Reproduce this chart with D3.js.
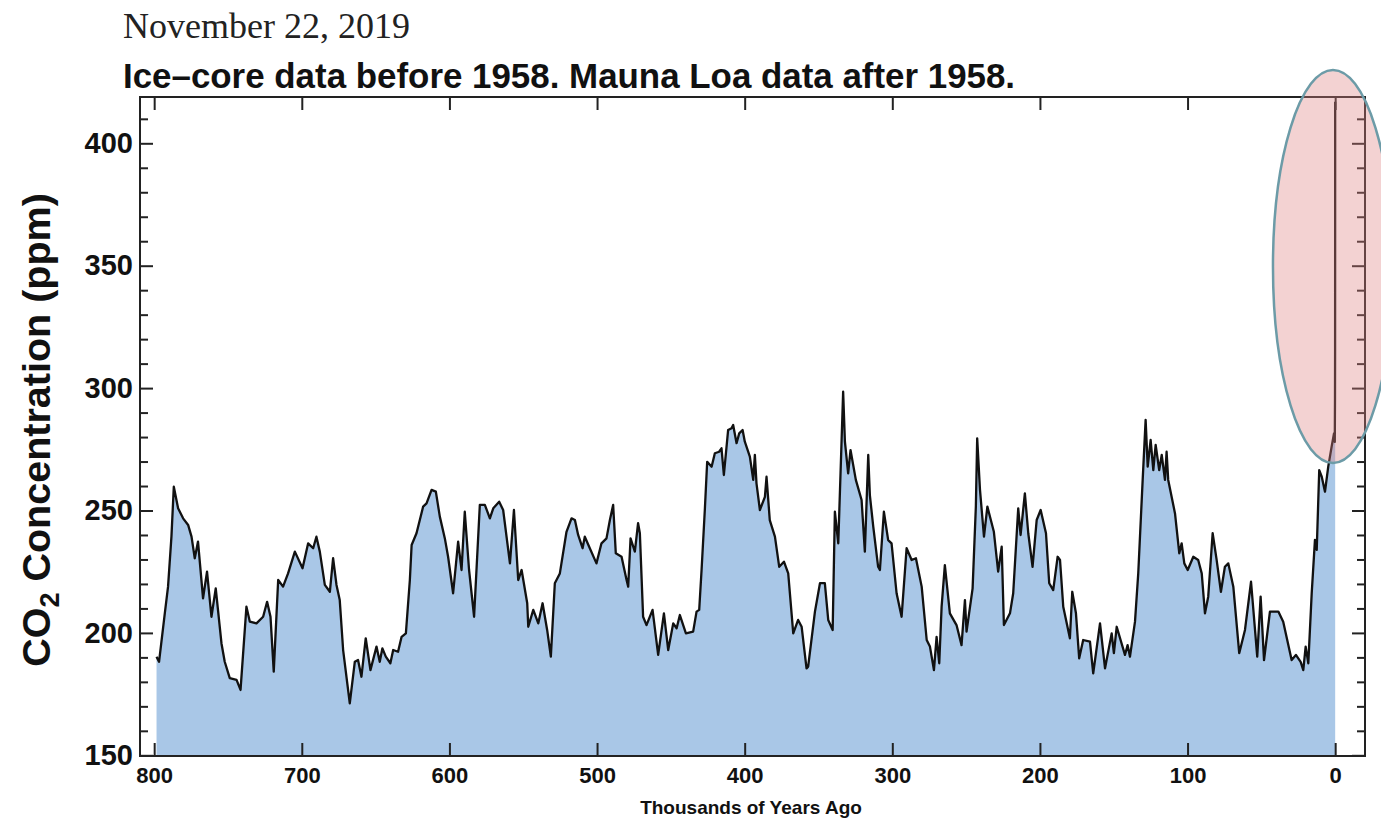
<!DOCTYPE html>
<html>
<head>
<meta charset="utf-8">
<script src="https://cdn.jsdelivr.net/npm/d3@7"></script>
<style>
  html, body { margin: 0; padding: 0; background: #fff; }
  svg { display: block; }
</style>
</head>
<body>
<svg id="chart" width="1381" height="822"></svg>
<script>
// ---- DATA ----
const dateText = "November 22, 2019";
const titleText = "Ice\u2013core data before 1958. Mauna Loa data after 1958.";
const xAxisTitle = "Thousands of Years Ago";
const xTickValues = [800, 700, 600, 500, 400, 300, 200, 100, 0];
const yTickValues = [150, 200, 250, 300, 350, 400];
const yMinorValues = [160,170,180,190,210,220,230,240,260,270,280,290,310,320,330,340,360,370,380,390,410];

// thousands of years ago (old -> recent)
const kyrAgo = [
798.4,796.7,792.8,790.6,788.3,786.7,783.8,780.4,777,774.7,772.5,770.3,766.9,764.2,761.2,758.3,754.4,752.2,748.8,744.2,
741.5,737.5,735.2,730.7,726.2,723.5,721.2,719,716,712.7,709.3,704.7,699.5,695.7,692.3,690.1,687.8,684.4,681,678.8,
676.5,674.3,672,667.5,664.1,661.9,659.6,656.7,653.5,649.4,647.2,645.4,643.1,640,638.1,634.8,632.4,629.5,626.8,625.6,
622.3,617.8,615.5,612.1,609.2,606.5,603.1,600.9,597.5,594.1,591.8,589.6,586.7,583.3,579.4,576,572.6,570.3,566.3,563.6,
559,556.3,553.4,551.1,547.3,546.6,543.2,539.8,536.9,533.8,531.3,528.6,525.2,520.7,517.3,515,512.8,509.8,508.3,504.9,
500.4,497,493.6,491.3,489.1,487.3,483.4,480,478.9,477.3,474.4,472.2,471,468.8,466.5,462.4,458.6,454.7,451.8,448.4,
446.1,443.9,439.8,434.9,432.6,430.8,429.2,427,425.4,422.4,420.2,417.3,415.7,414.1,411.2,408.9,407.8,405.5,403.7,401.4,
399.9,396.5,394.2,393.1,392,389.7,386.3,385.2,383,379.5,376.6,373.4,370.5,367.1,363.8,361.4,358.1,357,352.4,349,
345.7,343.4,340.4,338.9,336.6,334.3,333.3,332.1,329.9,328.3,324.7,320.8,318.6,316.3,315.2,312.9,309.6,308.4,305.7,302.8,
300.5,297.1,293.7,290.3,286.9,284,280.1,276.7,274.5,271.8,270,268.2,266.6,264.4,261,256.5,253.1,250.8,249.7,245.6,
243.4,242.5,240.6,237.9,235.6,231.2,228.3,225.9,224.4,220.3,218.1,214.7,213.1,210.2,207.9,205,202.2,199.5,195.9,193.7,
191,188,186.4,184.2,179.7,178.1,175.6,173.4,170.7,166.1,163.9,159.3,155.9,151.4,149.9,148,142.4,140.6,139,135.6,
133.4,130.4,128.4,127,125,123.2,121.6,119.2,117.5,115.3,114.2,113.1,108.5,105.6,104,102.2,99.9,96.1,92.8,90.4,
88.2,86,83,80.3,77.4,74.7,72.4,69,65,61.1,57,52.8,50.5,48.2,44.2,38.5,35.2,29.5,26.6,23.4,
21.6,20,18.2,15.9,13.7,12.5,10.8,9.1,6.9,4.7,2.4,0.8,0.27,0.12,0.061,0.04,0.02,0
];
// CO2 concentration, ppm
const co2ppm = [
190.3,188.2,208,218.9,239.3,259.7,250.9,246.8,244.1,239.3,230.5,237.3,214.1,225,206.6,218.2,195.7,188.2,181.5,180.8,
176.7,210.7,204.6,203.9,206.6,212.7,206.6,184.2,221.6,218.9,224.3,233.2,226.4,236.6,234.6,239.3,233.2,219.6,216.8,230.5,
219.6,213.4,193,171.2,188.2,188.9,182.1,197.8,184.8,194.4,188.2,193.7,190.3,187.6,193,192.3,198.4,199.8,221.6,235.9,
240.7,251.6,252.9,258.4,257.7,247.5,238.6,231.1,216.2,237.3,225.7,249.5,225.7,206.6,252.3,252.3,246.8,250.9,253.6,250.2,
228.4,250.2,221.6,225.7,212.1,202.5,209.4,203.9,212.1,201.2,190.3,220.3,224.3,241.3,246.8,246.1,240,234.6,239.3,234.6,
228.4,236.6,238.6,246.1,252.3,232.5,231.1,221.6,218.9,238.6,233.2,244.8,240.7,206.6,203.2,209.4,191,208,193,203.9,
201.9,207.3,199.8,200.5,208.7,209.4,225.7,250.2,269.9,267.9,273.4,274,275.4,264.5,282.9,283.6,284.9,277.5,281.5,282.9,
278.1,272,262.5,272.7,261.1,250.2,255.6,263.8,246.1,239.3,227,229.1,224.3,199.8,205.3,202.5,185.5,186.2,208.7,220.3,
220.3,205.3,201.2,249.5,236.6,279.5,298.5,278.1,265.2,274.7,262.5,254.3,233.2,272.7,256.3,243.4,227,225.7,249.5,237.9,
236.6,216.2,206.6,234.6,229.8,230.5,218.9,197.1,194.4,184.8,198.4,187.6,210.7,227.7,208,203.2,195,213.4,200.5,218.2,
251.6,279.5,258.4,239.3,251.6,241.3,225,235.2,203.2,208,216.2,250.9,240,257,240.7,227,246.1,250.2,240.7,220.3,
217.5,231.1,229.8,210.7,197.8,216.8,208,189.6,197.1,196.4,183.5,203.9,185.5,199.8,191.7,202.5,191,195,190.3,204.6,
224.3,262.5,287,267.9,278.8,266.5,276.8,266.5,272.7,262.5,274,262.5,248.8,232.5,236.6,228.4,225.7,231.1,229.8,224.3,
208,214.8,240.7,229.8,216.8,227,228.4,218.9,191.7,201.2,220.9,190.3,214.8,188.9,208.7,208.7,204.6,188.9,191,188.2,
184.8,194.4,187.6,216.2,238,233.9,266.5,263.8,257.7,267.9,276.1,281.5,278,296,315,339,369,417
];

// ---- LAYOUT ----
const frame = { left: 140, right: 1365, top: 97, bottom: 756 };
const svg = d3.select("#chart");

const x = d3.scaleLinear().domain([809.6, -20.2]).range([frame.left, frame.right]);
const y = d3.scaleLinear().domain([150, 400]).range([755.3, 143.3]);

const data = kyrAgo.map((k, i) => ({ k, v: co2ppm[i] }));

// area + line
svg.append("path")
  .datum(data)
  .attr("fill", "#a9c7e7")
  .attr("d", d3.area().x(d => x(d.k)).y0(y(150)).y1(d => y(d.v)));

svg.append("path")
  .datum(data)
  .attr("fill", "none")
  .attr("stroke", "#111")
  .attr("stroke-width", 2.3)
  .attr("stroke-linejoin", "round")
  .attr("d", d3.line().x(d => x(d.k)).y(d => y(d.v)));

// axes
const tickColor = "#222";
function styleAxis(g, fontSize) {
  g.select(".domain").remove();
  g.selectAll(".tick line").attr("stroke", tickColor).attr("stroke-width", 2);
  g.selectAll(".tick text")
    .attr("fill", "#111")
    .style("font-family", "'Liberation Sans', Arial, Helvetica, sans-serif")
    .style("font-weight", "bold")
    .style("font-size", fontSize + "px");
}

// bottom (labels)
svg.append("g").attr("transform", `translate(0,${frame.bottom})`)
  .call(d3.axisBottom(x).tickValues(xTickValues).tickSize(-13).tickPadding(11).tickFormat(d3.format("d")))
  .call(g => styleAxis(g, 22));
// top
svg.append("g").attr("transform", `translate(0,${frame.top})`)
  .call(d3.axisTop(x).tickValues(xTickValues).tickSize(-13).tickFormat(""))
  .call(g => styleAxis(g, 22));
// left major
svg.append("g").attr("transform", `translate(${frame.left},0)`)
  .call(d3.axisLeft(y).tickValues(yTickValues).tickSize(-13).tickPadding(7).tickFormat(d3.format("d")))
  .call(g => styleAxis(g, 29));
// left minor
svg.append("g").attr("transform", `translate(${frame.left},0)`)
  .call(d3.axisLeft(y).tickValues(yMinorValues).tickSize(-8).tickFormat(""))
  .call(g => styleAxis(g, 29));
// right major / minor
svg.append("g").attr("transform", `translate(${frame.right},0)`)
  .call(d3.axisRight(y).tickValues(yTickValues).tickSize(-13).tickFormat(""))
  .call(g => styleAxis(g, 29));
svg.append("g").attr("transform", `translate(${frame.right},0)`)
  .call(d3.axisRight(y).tickValues(yMinorValues).tickSize(-8).tickFormat(""))
  .call(g => styleAxis(g, 29));

// frame
svg.append("rect")
  .attr("x", frame.left).attr("y", frame.top)
  .attr("width", frame.right - frame.left).attr("height", frame.bottom - frame.top)
  .attr("fill", "none").attr("stroke", "#222").attr("stroke-width", 2);

// texts
svg.append("text")
  .attr("x", 123).attr("y", 38)
  .style("font-family", "'Liberation Serif', 'Times New Roman', serif")
  .style("font-size", "36px")
  .attr("fill", "#222")
  .text(dateText);

svg.append("text")
  .attr("x", 123).attr("y", 88)
  .style("font-family", "'Liberation Sans', Arial, Helvetica, sans-serif")
  .style("font-weight", "bold")
  .style("font-size", "34.9px")
  .attr("fill", "#111")
  .text(titleText);

svg.append("text")
  .attr("x", 751).attr("y", 814)
  .attr("text-anchor", "middle")
  .style("font-family", "'Liberation Sans', Arial, Helvetica, sans-serif")
  .style("font-weight", "bold")
  .style("font-size", "19px")
  .attr("fill", "#111")
  .text(xAxisTitle);

const yl = svg.append("text")
  .attr("transform", "translate(50,430) rotate(-90)")
  .attr("text-anchor", "middle")
  .style("font-family", "'Liberation Sans', Arial, Helvetica, sans-serif")
  .style("font-weight", "bold")
  .style("font-size", "39.5px")
  .attr("fill", "#111");
yl.append("tspan").text("CO");
yl.append("tspan").attr("dy", 9).style("font-size", "27px").text("2");
yl.append("tspan").attr("dy", -9).text(" Concentration (ppm)");

// annotation ellipse around the modern rise
svg.append("ellipse")
  .attr("cx", x(1.5)).attr("cy", (70 + 463) / 2)
  .attr("rx", 60).attr("ry", (463 - 70) / 2)
  .attr("fill", "rgba(222,130,130,0.36)")
  .attr("stroke", "#6c9ba7")
  .attr("stroke-width", 2.5);
</script>
</body>
</html>
